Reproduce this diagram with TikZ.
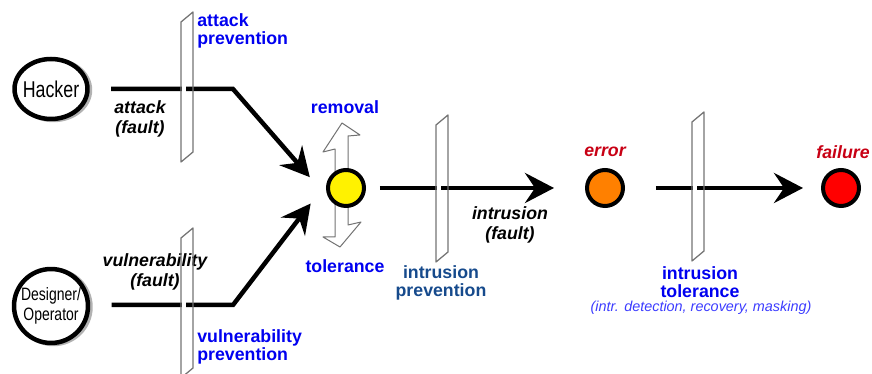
\documentclass[tikz,border=0pt]{standalone}
\usepackage{fontspec}
\setmainfont{Liberation Sans}
\newfontfamily\narrowfont[FakeStretch=0.78]{Liberation Sans}
\usepackage{tikz}
\usetikzlibrary{arrows.meta,positioning,calc,shapes.geometric}

\definecolor{labelblue}{RGB}{0,0,240}
\definecolor{prevblue}{RGB}{22,74,140}
\definecolor{errred}{RGB}{200,0,20}
\definecolor{noteblue}{RGB}{60,60,255}

\tikzset{
  actor/.style={ellipse,draw,line width=0.9mm,fill=white,inner sep=0pt,
    preaction={draw=black!30,line width=0.9mm,transform canvas={xshift=0.5mm,yshift=-0.2mm}}},
  narrow/.style={font=\narrowfont\fontsize{13}{13}\selectfont,inner sep=0pt},
  stage/.style={circle,draw,line width=0.8mm,minimum size=7.2mm,inner sep=0pt},
  flow/.style={line width=0.9mm,-{Stealth[length=5.8mm,width=6mm,inset=2mm]}},
  hollow/.style={draw=black!55,fill=white,line width=0.2mm,line join=round},
  shield/.style={draw=black!55,line width=0.25mm,line join=round},
  means/.style={font=\fontsize{10.1}{10.3}\selectfont\bfseries,text=labelblue,inner sep=0pt},
  note/.style={font=\fontsize{8.2}{9}\selectfont\itshape,text=noteblue,inner sep=0pt},
  fault/.style={font=\fontsize{10.1}{11.4}\selectfont\bfseries\itshape,align=center,inner sep=0pt},
  outcome/.style={font=\fontsize{10.1}{10.3}\selectfont\bfseries\itshape,text=errred,inner sep=0pt},
}

% barrier plane: x and y of the left edge (top, bottom)
\newcommand{\barrier}[3]{%
  \draw[shield] (#1,#2) -- ++(12,-10) -- (#1+12,#3-10) -- (#1,#3) -- cycle;}
% break in a line just in front of a barrier
\newcommand{\gap}[2]{%
  \fill[white] (#1+1,#2-4) rectangle (#1+5,#2+4);}

\begin{document}
\begin{tikzpicture}[x=0.02cm,y=-0.02cm]
  \useasboundingbox (0,0) rectangle (872,374);

  % sources
  \node[actor,minimum width=14.6mm,minimum height=12mm,
        label={[narrow]center:Hacker}] (hacker) at (51,89) {};
  \node[actor,minimum width=14.8mm,minimum height=14.8mm,
        label={[narrow,font=\narrowfont\fontsize{10.2}{11}\selectfont,align=center]center:Designer/\\Operator}] (designer) at (51,306) {};

  % removal / tolerance arrow behind the core
  \draw[hollow,shift={(346,188)}] (-11,0) -- (-11,-39) -- (-23,-36) -- (-4,-65)
    -- (14,-53) -- (2,-52) -- (2,37) -- (15,34) -- (-6,59) -- (-23,49)
    -- (-11,49) -- cycle;

  % states
  \node[stage,fill=yellow] (core) at (346,188) {};
  \node[stage,fill={rgb,255:red,255;green,128;blue,0}] (error) at (605,188) {};
  \node[stage,fill=red] (failure) at (841,188) {};

  \coordinate (hbend) at (233,89);
  \coordinate (dbend) at (233,305);
  \coordinate (merge) at (321,190);

  \draw[flow,shorten <=4.3mm,shorten >=3.4mm] (hacker.east) -- (hbend) -- (merge);
  \draw[flow,shorten <=4.3mm,shorten >=3.4mm] (designer.east |- dbend) -- (dbend) -- (merge);
  \draw[flow,shorten <=2.8mm,shorten >=6.2mm] (core.east) -- (error.west);
  \draw[flow,shorten <=6.2mm,shorten >=3.6mm] (error.east) -- (failure.west);

  \gap{181}{89}
  \gap{181}{305}
  \gap{436}{188}
  \gap{692}{188}

  % labels
  \node[fault] (attfault) at (140,119) {attack\\(fault)};
  \node[fault] (vulfault) at (155,272) {vulnerability\\(fault)};
  \node[fault] (intfault) at (510,225) {intrusion\\(fault)};

  \barrier{181}{22}{162}
  \barrier{181}{238}{378}
  \barrier{436}{125}{262}
  \barrier{692}{122}{261}

  \node[means,anchor=west,align=left] (attprev) at (197,31) {attack\\prevention};
  \node[means,anchor=west,align=left] (vulprev) at (197,347) {vulnerability\\prevention};
  \node[means] (removal) at (345,107) {removal};
  \node[means] (tolerance) at (345,266) {tolerance};
  \node[means,text=prevblue,align=center] (intprev) at (441,283) {intrusion\\prevention};
  \node[means,align=center] (inttol) at (700,282) {intrusion\\tolerance};
  \node[note] (mech) at (701,308) {(intr. detection, recovery, masking)};
  \node[outcome] (errlbl) at (605,152) {error};
  \node[outcome] (faillbl) at (843,152) {failure};
\end{tikzpicture}
\end{document}
